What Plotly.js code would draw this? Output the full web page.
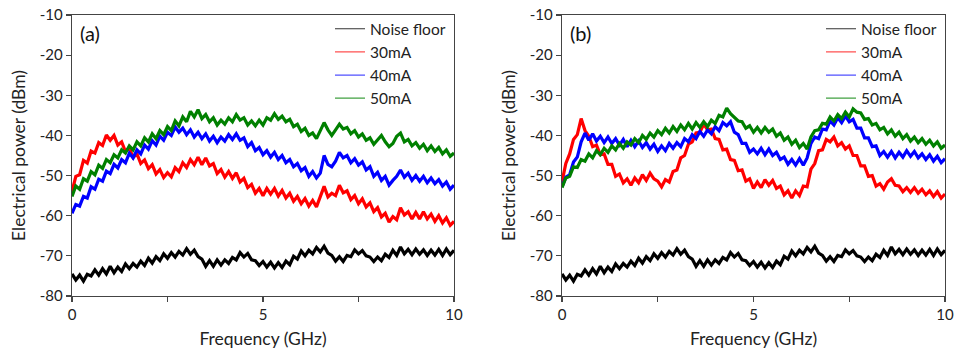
<!DOCTYPE html>
<html>
<head>
<meta charset="utf-8">
<script src="https://cdn.plot.ly/plotly-3.0.1.min.js"></script>
<style>
  html, body { margin: 0; padding: 0; background: #fff; }
  #chart { width: 954px; height: 350px; }
</style>
</head>
<body>
<div id="chart"></div>
<script>
// Frequency sampling grid (GHz), 0.0 .. 10.0 in 0.1 steps
const freq = Array.from({length: 101}, (_, i) => +(i * 0.1).toFixed(1));

const seriesNames = ["Noise floor", "30mA", "40mA", "50mA"];
const panelLabels = ["(a)", "(b)"];
const xTickVals = [0, 2.5, 5, 7.5, 10];
const xTickText = ["0", "", "5", "", "10"];
const yTickVals = [-80, -70, -60, -50, -40, -30, -20, -10];
const yTickText = ["-80", "-70", "-60", "-50", "-40", "-30", "-20", "-10"];

// Noise floor (dBm) – same in both panels
const noiseFloor = [
-74.5,-76.0,-74.8,-76.3,-74.6,-75.0,-73.5,-74.8,-73.2,-74.5,
-72.6,-74.2,-72.8,-73.9,-72.0,-73.2,-71.9,-72.8,-71.3,-72.4,
-70.6,-71.8,-70.2,-71.2,-69.5,-70.6,-69.2,-70.3,-68.9,-69.8,
-68.2,-69.6,-68.6,-70.2,-70.8,-72.6,-71.2,-72.6,-71.0,-72.3,
-71.0,-71.9,-70.4,-71.0,-69.2,-70.3,-69.4,-71.0,-71.2,-72.4,
-71.4,-72.8,-71.6,-73.0,-71.7,-72.9,-71.3,-72.2,-70.1,-70.8,
-68.8,-70.0,-68.6,-69.5,-67.9,-69.0,-67.6,-69.3,-69.9,-71.3,
-70.2,-71.4,-69.9,-70.2,-68.5,-69.5,-68.7,-70.0,-70.3,-71.4,
-70.3,-71.2,-69.6,-70.4,-68.6,-69.9,-67.8,-69.5,-68.4,-69.7,
-68.3,-69.6,-68.5,-69.9,-68.6,-69.8,-68.4,-69.9,-68.3,-69.7,
-68.6];

// Panel (a)
const a30 = [
-54.0,-50.2,-49.8,-46.2,-46.9,-43.9,-44.4,-41.8,-42.5,-39.9,
-41.2,-40.0,-42.4,-41.6,-44.0,-43.1,-45.5,-44.6,-47.0,-46.1,
-48.3,-47.3,-49.6,-48.5,-50.5,-49.3,-50.3,-48.0,-49.0,-46.8,
-48.0,-46.0,-47.3,-45.4,-47.3,-45.6,-47.6,-47.0,-49.5,-48.5,
-50.4,-49.0,-50.7,-49.3,-51.6,-50.7,-53.0,-52.2,-54.4,-53.2,
-55.0,-53.2,-54.6,-53.2,-55.1,-53.7,-55.6,-54.4,-56.4,-55.2,
-57.0,-55.7,-57.6,-56.2,-57.8,-55.2,-52.7,-55.3,-54.4,-55.0,
-52.4,-54.3,-53.8,-56.0,-55.0,-57.0,-55.8,-57.8,-56.8,-59.0,
-58.0,-60.3,-59.4,-61.6,-60.2,-61.0,-58.0,-59.8,-59.0,-60.8,
-59.2,-60.8,-59.0,-60.8,-59.6,-61.4,-60.0,-61.8,-60.5,-62.4,
-61.4];
const a40 = [
-59.4,-57.2,-57.6,-55.2,-55.6,-52.8,-53.4,-50.9,-51.4,-48.9,
-49.5,-47.2,-48.1,-46.0,-46.8,-44.4,-45.6,-43.6,-44.6,-42.4,
-43.4,-41.3,-42.4,-40.2,-41.2,-39.2,-40.0,-37.9,-39.2,-38.2,
-39.8,-38.6,-40.4,-39.2,-40.8,-39.6,-41.4,-40.2,-41.8,-40.4,
-41.4,-39.8,-41.0,-39.6,-41.2,-40.6,-42.8,-41.8,-43.8,-43.0,
-44.8,-43.8,-45.4,-44.2,-46.0,-45.0,-46.8,-46.0,-47.8,-47.0,
-48.8,-48.0,-50.2,-49.0,-50.6,-49.4,-45.0,-47.2,-47.8,-46.4,
-44.2,-45.6,-45.0,-46.8,-45.8,-47.4,-46.6,-48.6,-47.8,-50.2,
-49.2,-51.2,-50.2,-52.4,-51.2,-50.2,-48.6,-50.4,-49.4,-51.2,
-50.0,-51.4,-50.2,-51.8,-50.6,-52.0,-51.0,-52.6,-51.6,-53.4,
-52.4];
const a50 = [
-55.2,-52.6,-53.4,-50.8,-51.4,-49.0,-49.8,-47.4,-48.2,-46.0,
-46.8,-44.8,-45.6,-43.6,-44.4,-42.6,-43.6,-41.6,-42.6,-40.6,
-41.6,-39.6,-40.8,-38.8,-39.8,-37.8,-38.8,-36.4,-37.6,-35.4,
-36.6,-34.0,-35.4,-33.6,-35.8,-34.8,-36.6,-35.6,-37.4,-36.2,
-37.2,-35.6,-36.6,-34.8,-36.2,-35.6,-37.4,-36.4,-37.6,-36.2,
-37.4,-35.6,-36.2,-34.6,-36.0,-35.2,-36.6,-36.0,-37.8,-37.2,
-39.0,-38.2,-40.0,-39.4,-40.8,-38.8,-36.8,-38.6,-40.0,-38.6,
-37.2,-38.4,-38.0,-39.6,-38.8,-40.4,-39.6,-41.2,-40.6,-42.2,
-41.2,-40.0,-41.6,-42.8,-42.0,-40.2,-39.4,-41.6,-41.0,-42.6,
-41.8,-43.2,-42.2,-43.8,-42.6,-44.0,-43.0,-44.6,-43.6,-45.2,
-44.4];

// Panel (b)
const b30 = [
-51.6,-47.0,-44.6,-41.0,-39.8,-35.8,-38.8,-40.2,-42.8,-42.4,
-44.8,-44.6,-47.2,-47.2,-50.2,-49.6,-51.8,-50.8,-52.4,-50.6,
-51.8,-49.8,-51.2,-49.4,-50.8,-51.4,-52.8,-51.0,-51.6,-49.0,
-48.6,-45.6,-45.0,-42.2,-41.6,-39.4,-39.2,-37.2,-38.6,-38.4,
-40.8,-41.0,-43.6,-43.4,-46.0,-46.2,-48.8,-48.6,-51.4,-50.8,
-53.2,-51.6,-53.0,-51.0,-52.4,-51.2,-53.2,-52.6,-54.8,-53.8,
-55.6,-53.8,-55.0,-52.6,-52.8,-48.4,-47.0,-43.8,-43.6,-41.0,
-41.6,-40.4,-42.6,-41.8,-43.4,-42.6,-45.0,-45.0,-47.6,-47.6,
-50.2,-50.0,-52.6,-52.0,-53.4,-51.6,-50.8,-52.4,-52.6,-54.0,
-53.0,-54.2,-53.0,-54.4,-53.4,-54.8,-53.8,-55.2,-54.0,-55.6,
-54.6];
const b40 = [
-52.8,-50.4,-49.8,-46.6,-45.4,-41.6,-39.4,-41.2,-39.6,-41.4,
-40.2,-41.8,-40.4,-42.0,-40.8,-42.4,-41.0,-42.8,-41.2,-42.8,
-41.4,-43.0,-41.8,-43.4,-42.2,-44.0,-42.6,-43.8,-42.0,-43.2,
-41.8,-42.8,-40.8,-41.6,-39.8,-40.8,-39.0,-40.2,-38.6,-39.6,
-37.8,-38.8,-36.8,-37.6,-36.6,-39.2,-39.8,-42.0,-42.0,-44.2,
-43.4,-44.6,-43.2,-44.8,-43.4,-45.0,-44.2,-46.0,-45.4,-47.2,
-46.0,-47.4,-45.8,-47.4,-45.6,-42.0,-40.4,-40.8,-38.4,-38.6,
-36.4,-37.4,-35.6,-36.8,-35.2,-36.6,-36.0,-38.2,-38.2,-40.6,
-40.6,-42.8,-42.6,-45.0,-44.0,-45.4,-44.0,-45.6,-44.2,-45.4,
-43.8,-45.2,-44.0,-45.6,-44.6,-46.0,-44.8,-46.4,-45.2,-46.8,
-45.8];
const b50 = [
-53.0,-50.6,-50.2,-47.8,-48.0,-46.0,-46.4,-44.6,-45.6,-43.8,
-44.8,-43.2,-44.2,-42.6,-43.6,-42.0,-43.2,-41.6,-42.4,-40.8,
-41.8,-40.0,-41.0,-39.4,-40.4,-38.8,-39.8,-38.2,-39.4,-37.8,
-39.0,-37.4,-38.6,-37.0,-38.4,-36.8,-38.0,-36.6,-37.8,-36.2,
-37.0,-35.0,-35.4,-33.2,-34.6,-35.6,-36.4,-36.6,-38.2,-37.6,
-39.2,-38.0,-39.4,-38.0,-39.2,-38.4,-40.2,-39.4,-41.2,-40.4,
-42.2,-41.2,-43.0,-42.0,-43.4,-40.4,-38.8,-38.6,-37.0,-37.2,
-35.4,-36.4,-34.8,-35.8,-34.2,-35.4,-33.4,-34.2,-34.4,-36.0,
-35.8,-37.4,-37.0,-38.6,-38.0,-39.6,-38.6,-40.2,-39.2,-40.8,
-39.8,-41.4,-40.4,-41.8,-40.8,-42.2,-41.2,-42.6,-41.6,-43.2,
-42.4];

const colors = ["#000000", "#ff0000", "#0000ff", "#008000"];
const legendColors = ["#333333", "#ff5050", "#5050ff", "#40a040"];
const panelA = [noiseFloor, a30, a40, a50];
const panelB = [noiseFloor, b30, b40, b50];

const traces = [];
[panelA, panelB].forEach((panel, p) => {
  const xa = p === 0 ? "x" : "x2", ya = p === 0 ? "y" : "y2";
  const lg = p === 0 ? "legend" : "legend2";
  panel.forEach((ys, k) => {
    traces.push({
      type: "scatter", mode: "lines",
      x: freq, y: ys,
      name: seriesNames[k],
      xaxis: xa, yaxis: ya, legend: lg,
      showlegend: false,
      line: {color: colors[k], width: 3.2},
      hoverinfo: "skip"
    });
  });
  // thin legend entries (legend only, no plotted marks)
  seriesNames.forEach((nm, k) => {
    traces.push({
      type: "scatter", mode: "lines",
      x: [null], y: [null],
      name: nm, xaxis: xa, yaxis: ya, legend: lg,
      showlegend: true,
      line: {color: legendColors[k], width: 1.2},
      hoverinfo: "skip"
    });
  });
});

const font = "Lato, 'Open Sans', sans-serif";
const axisCommon = {
  showline: true, mirror: true, linecolor: "#444", linewidth: 1.3,
  showgrid: false, zeroline: false,
  ticks: "outside", ticklen: 5, tickwidth: 1.2, tickcolor: "#444",
  tickfont: {family: font, size: 15, color: "#222"}
};
const xAxis = (domain, anchor) => Object.assign({}, axisCommon, {
  domain: domain, anchor: anchor, range: [0, 10],
  tickmode: "array", tickvals: xTickVals, ticktext: xTickText,
  title: {text: "Frequency (GHz)", font: {family: font, size: 17.5, color: "#222"}, standoff: 10}
});
const yAxis = (anchor) => Object.assign({}, axisCommon, {
  anchor: anchor, domain: [0, 1], range: [-80, -10],
  tickmode: "array", tickvals: yTickVals, ticktext: yTickText,
  title: {text: "Electrical power (dBm)", font: {family: font, size: 17.5, color: "#222"}, standoff: 9}
});

const legendCommon = {
  bgcolor: "rgba(0,0,0,0)", borderwidth: 0,
  font: {family: font, size: 15.5, color: "#222"},
  xanchor: "left", yanchor: "top", tracegroupgap: 0,
  itemwidth: 30
};

const layout = {
  width: 954, height: 350,
  margin: {l: 0, r: 0, t: 15, b: 54},
  paper_bgcolor: "#fff", plot_bgcolor: "#fff",
  showlegend: true,
  xaxis: xAxis([72/954, 454/954], "y"),
  yaxis: yAxis("x"),
  xaxis2: xAxis([562/954, 945/954], "y2"),
  yaxis2: yAxis("x2"),
  legend: Object.assign({}, legendCommon, {x: 330/954, y: 1.01}),
  legend2: Object.assign({}, legendCommon, {x: 821/954, y: 1.01}),
  annotations: panelLabels.map((t, i) => ({
    text: t, xref: "paper", yref: "paper",
    x: (i === 0 ? 78 : 568) / 954, y: 1 - (33 - 15) / 281,
    xanchor: "left", yanchor: "middle", showarrow: false,
    font: {family: font, size: 20, color: "#111"}
  }))
};

Plotly.newPlot("chart", traces, layout, {staticPlot: true, displayModeBar: false});
</script>
</body>
</html>
